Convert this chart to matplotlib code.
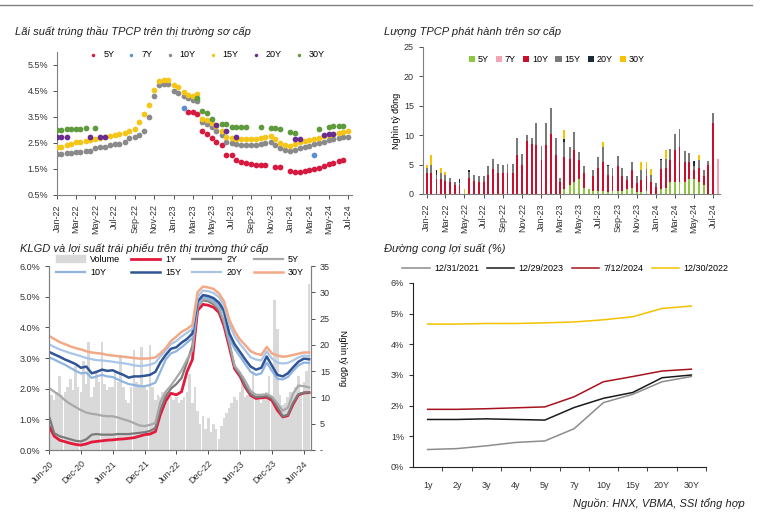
import matplotlib
matplotlib.use('Agg')
import matplotlib.pyplot as plt
import matplotlib.dates as mdates
import matplotlib.ticker as tic
import numpy as np
import pandas as pd
from matplotlib.lines import Line2D
from matplotlib.patches import Patch

plt.rcParams['font.family'] = ['Liberation Sans', 'DejaVu Sans']
plt.rcParams['font.size'] = 7
nan = np.nan

# ---- top left: auction yields, semi-monthly from Jan-2022 ----
tl_start = '2022-01-01'
tl_5y = [nan]*27 + [3.68, 3.68, 3.62, 2.95, 2.85, 2.70, 2.55, 2.42, 2.05, 2.02, 1.83,
                    1.78, 1.72, 1.68, 1.65, 1.64, 1.64, nan, 1.58, 1.58, nan, 1.42, 1.38,
                    1.38, 1.42, 1.45, 1.50, 1.55, 1.60, 1.68, 1.74, 1.80, 1.85, nan, nan]
tl_7y = [nan]*26 + [3.83] + [nan]*26 + [2.03] + [nan]*8
tl_10y = [2.08, 2.08, 2.10, 2.12, 2.14, 2.16, 2.18, 2.20, 2.30, 2.34,
          2.36, 2.42, 2.46, 2.48, 2.52, 2.68, 2.72, 2.80, 2.97, 3.50,
          4.30, 4.74, 4.78, 4.76, 4.50, 4.42, 4.30, 4.22, 4.17, 4.10,
          3.32, 3.25, 3.10, 2.98, 2.80, 2.55, 2.50, 2.45, 2.44, 2.43,
          2.43, 2.44, 2.45, 2.50, 2.53, 2.42, 2.30, 2.25, 2.20, 2.22,
          2.30, 2.36, 2.40, 2.45, 2.50, 2.55, 2.60, 2.66, 2.70, 2.72,
          2.74, nan]
tl_15y = [2.34, 2.36, 2.42, 2.48, 2.52, 2.54, 2.56, 2.60, 2.64, 2.70,
          2.72, 2.76, 2.82, 2.86, 2.90, 2.96, 3.05, 3.30, 3.60, 3.98,
          4.55, 4.90, 4.94, 4.93, 4.72, 4.66, 4.45, 4.36, 4.30, 4.38,
          3.42, 3.38, 3.28, 3.15, 2.95, 2.75, 2.70, 2.67, 2.66, 2.65,
          2.65, 2.66, 2.68, 2.72, 2.78, 2.65, 2.50, 2.42, 2.38, 2.45,
          2.52, 2.57, 2.62, 2.66, 2.70, 2.76, 2.82, 2.86, 2.90, 2.94,
          2.98, nan]
tl_20y = [2.74, 2.74, 2.74, nan, nan, nan, nan, 2.74, nan, 2.74,
          2.74, nan, nan, nan, nan, nan, nan, nan, nan, nan,
          nan, nan, nan, nan, nan, nan, nan, nan, nan, nan,
          nan, nan, nan, 3.20, nan, 2.98, nan, 2.74, nan, nan,
          nan, nan, nan, nan, nan, nan, nan, nan, nan, 2.66,
          2.66, nan, nan, nan, nan, 2.82, 2.85, 2.86, nan, nan,
          nan, nan]
tl_30y = [3.00, 3.00, 3.02, 3.04, 3.04, 3.04, 3.06, nan, 3.08, nan,
          nan, nan, nan, nan, nan, nan, nan, nan, nan, nan,
          nan, nan, nan, nan, nan, nan, nan, nan, nan, 4.24,
          3.72, 3.65, 3.42, nan, 3.25, 3.22, 3.12, 3.10, 3.10, 3.10,
          nan, nan, 3.10, nan, 3.08, 3.06, 3.04, nan, 2.92, 2.90,
          nan, nan, nan, nan, 3.04, nan, 3.12, 3.14, 3.14, 3.15,
          nan, nan]

# ---- top right: issuance volume (nghin ty dong), semi-monthly ----
iss_5y = [0]*29 + [0.8, 1.5, 2.0, 2.5, 1.0, 0.8, 0.5, 0.5, 0.5, 0.3, 0.5, 0.5, 0.5, 0.8,
                   1.0, 0.3, 0.3, 0.5, 0, 0, 0.8, 1.0, 2.0, 2.0, 2.0, 2.0, 2.5, 2.5, 2.0,
                   1.5, 0, 0, 0]
iss_7y = [0]*61 + [6.0]
iss_10y = [3.5, 3.5, 2.5, 2.5, 2.2, 2.0, 1.5, 1.5, 0, 2.7,
           2.2, 2.1, 2.0, 3.3, 4.2, 3.6, 3.5, 3.6, 3.6, 6.6,
           5.0, 9.0, 8.5, 8.4, 5.7, 8.4, 10.2, 6.7, 2.0, 5.5,
           4.5, 5.5, 3.2, 2.6, 0, 2.5, 4.0, 5.0, 3.0, 2.5,
           4.2, 2.5, 1.5, 3.0, 1.5, 2.0, 2.5, 2.0, 1.2, 3.5,
           3.5, 3.8, 5.5, 6.0, 3.5, 3.0, 1.5, 2.5, 1.5, 5.0,
           12.0, 0]
iss_15y = [1.0, 1.5, 0.8, 1.0, 1.0, 0.8, 0.5, 0.3, 0, 1.0,
           1.0, 1.0, 1.0, 1.4, 1.8, 1.5, 1.5, 1.5, 1.5, 2.9,
           1.8, 1.1, 1.0, 3.6, 2.5, 3.6, 4.5, 2.9, 0.8, 2.5,
           2.0, 3.0, 1.5, 1.2, 0, 1.0, 1.8, 2.5, 1.5, 1.5,
           1.8, 1.5, 0.7, 1.5, 1.2, 1.7, 1.3, 1.2, 0.6, 1.5,
           1.5, 1.9, 2.7, 3.0, 1.8, 1.5, 0.8, 1.2, 1.0, 0.6,
           1.7, 0]
iss_20y = [0, 0, 0.7, 0, 0, 0, 0, 0.7, 0, 0.3] + [0]*19 + [0.5] + [0]*8 + [0.2] + \
          [0]*10 + [0.2] + [0]*6 + [0.8] + [0]*5
iss_30y = [0.5, 1.7, 0, 1.0, 0.5, 0, 0, 0, 0.8] + [0]*20 + [1.5] + [0]*7 + [0.8] + \
          [0]*7 + [1.5, 1.2, 1.0, 0, 0, 1.5] + [0]*6 + [1.0] + [0]*4

# ---- bottom left: secondary yields (monthly) and volume (semi-monthly) ----
sec_start = '2020-06-01'
y1 = [0.78, 0.45, 0.32, 0.27, 0.22, 0.18, 0.16, 0.20, 0.26, 0.28, 0.30, 0.32, 0.33,
      0.35, 0.36, 0.38, 0.40, 0.45, 0.50, 0.52, 0.60, 1.15, 1.60, 1.85, 1.80, 1.90,
      2.55, 2.95, 4.55, 4.75, 4.72, 4.65, 4.48, 4.05, 3.35, 2.65, 2.40, 2.05, 1.78,
      1.68, 1.70, 1.72, 1.62, 1.30, 1.08, 1.12, 1.50, 1.80, 1.86, 1.87]
y2 = [1.10, 0.55, 0.45, 0.40, 0.35, 0.30, 0.28, 0.35, 0.50, 0.52, 0.50, 0.50, 0.50,
      0.52, 0.52, 0.52, 0.54, 0.56, 0.58, 0.62, 0.72, 1.30, 1.75, 2.00, 2.15, 2.35,
      2.85, 3.40, 4.70, 4.88, 4.85, 4.75, 4.55, 4.15, 3.45, 2.70, 2.45, 2.10, 1.82,
      1.72, 1.74, 1.76, 1.68, 1.40, 1.10, 1.15, 1.55, 1.82, 1.87, 1.88]
y5 = [2.02, 1.90, 1.78, 1.62, 1.50, 1.40, 1.30, 1.22, 1.18, 1.16, 1.12, 1.10, 1.10,
      1.06, 1.00, 0.95, 0.88, 0.80, 0.78, 0.82, 0.88, 1.55, 1.90, 2.10, 2.35, 2.60,
      2.95, 3.25, 4.70, 4.92, 4.90, 4.80, 4.62, 4.20, 3.50, 2.75, 2.52, 2.25, 1.92,
      1.80, 1.80, 1.82, 1.74, 1.52, 1.28, 1.38, 1.85, 2.10, 2.08, 2.04]
y10 = [3.02, 2.95, 2.86, 2.78, 2.68, 2.58, 2.50, 2.52, 2.35, 2.40, 2.45, 2.40, 2.38,
       2.30, 2.22, 2.15, 2.12, 2.08, 2.08, 2.12, 2.20, 2.55, 2.95, 3.15, 3.22, 3.35,
       3.50, 3.65, 4.75, 4.98, 4.95, 4.88, 4.72, 4.45, 3.65, 3.30, 3.05, 2.80, 2.55,
       2.45, 2.50, 2.85, 2.58, 2.32, 2.30, 2.38, 2.58, 2.76, 2.85, 2.84]
y15 = [3.20, 3.12, 3.04, 2.95, 2.88, 2.80, 2.68, 2.72, 2.50, 2.55, 2.62, 2.58, 2.60,
       2.52, 2.45, 2.36, 2.40, 2.40, 2.42, 2.45, 2.55, 2.85, 3.10, 3.30, 3.35, 3.50,
       3.62, 3.80, 4.85, 5.05, 5.02, 4.95, 4.80, 4.55, 3.80, 3.45, 3.20, 2.95, 2.72,
       2.62, 2.68, 3.05, 2.75, 2.45, 2.40, 2.50, 2.70, 2.88, 2.98, 2.96]
y20 = [3.45, 3.36, 3.28, 3.22, 3.16, 3.11, 3.06, 3.00, 2.96, 2.93, 2.92, 2.90, 2.88,
       2.85, 2.83, 2.80, 2.76, 2.74, 2.75, 2.78, 2.85, 3.05, 3.25, 3.45, 3.55, 3.70,
       3.82, 3.95, 5.00, 5.20, 5.18, 5.12, 4.98, 4.72, 4.10, 3.72, 3.45, 3.25, 3.02,
       2.95, 2.92, 3.22, 2.98, 2.85, 2.82, 2.84, 2.92, 3.02, 3.08, 3.06]
y30 = [3.72, 3.62, 3.52, 3.45, 3.38, 3.32, 3.28, 3.22, 3.18, 3.16, 3.14, 3.10, 3.08,
       3.06, 3.04, 3.02, 3.00, 2.98, 2.98, 2.99, 3.02, 3.15, 3.32, 3.55, 3.70, 3.85,
       3.95, 4.08, 5.15, 5.33, 5.30, 5.25, 5.10, 4.85, 4.25, 3.88, 3.60, 3.42, 3.22,
       3.14, 3.10, 3.36, 3.15, 3.08, 3.04, 3.06, 3.10, 3.14, 3.18, 3.18]
volume = [12.0, 10.5, 9.5, 11.0, 14.0, 10.5, 11.0, 12.0, 13.5, 11.5,
          16.0, 12.0, 11.0, 17.0, 12.5, 20.5, 10.0, 12.0, 15.0, 13.0,
          20.5, 12.5, 11.5, 12.0, 12.0, 15.0, 13.0, 18.0, 12.0, 9.5,
          9.0, 12.0, 19.0, 13.0, 12.5, 19.5, 12.0, 11.5, 20.0, 12.0,
          9.5, 10.5, 10.0, 11.0, 11.0, 10.5, 10.0, 9.5, 10.0, 9.0,
          9.5, 10.0, 11.0, 14.5, 9.0, 12.0, 7.5, 5.0, 6.5, 4.0,
          6.0, 3.5, 5.0, 4.0, 2.0, 4.5, 6.0, 7.0, 8.0, 9.0,
          10.0, 9.5, 11.0, 14.0, 10.0, 10.5, 11.5, 15.0, 10.0, 9.5,
          9.0, 10.0, 11.0, 14.0, 10.0, 28.5, 23.0, 10.5, 8.5, 9.0,
          10.0, 11.0, 10.5, 12.0, 14.0, 11.0, 13.0, 15.0, 31.5]

# ---- bottom right: yield curves ----
tenors = ['1y', '2y', '3y', '4y', '5y', '7y', '10y', '15y', '20Y', '30Y']
curve_2021 = [0.57, 0.60, 0.69, 0.80, 0.85, 1.25, 2.10, 2.37, 2.78, 2.95]
curve_2023 = [1.55, 1.55, 1.57, 1.55, 1.53, 1.94, 2.24, 2.43, 2.91, 3.00]
curve_2024 = [1.88, 1.88, 1.90, 1.93, 1.96, 2.29, 2.78, 2.95, 3.13, 3.19]
curve_2022 = [4.66, 4.66, 4.68, 4.68, 4.70, 4.73, 4.80, 4.90, 5.17, 5.25]

fig = plt.figure(figsize=(7.6, 5.26), dpi=100)
fig.add_artist(Line2D([0.0, 0.99], [0.99, 0.99], color='#808080', lw=1))

title_kw = dict(fontsize=8, style='italic', color='#222222', va='baseline')
fig.text(15/760, 1-35/526, 'Lãi suất trúng thầu TPCP trên thị trường sơ cấp', **title_kw)
fig.text(384/760, 1-35/526, 'Lượng TPCP phát hành trên sơ cấp', **title_kw)
fig.text(20/760, 1-252/526, 'KLGD và lợi suất trái phiếu trên thị trường thứ cấp', **title_kw)
fig.text(384/760, 1-252/526, 'Đường cong lợi suất (%)', **title_kw)
fig.text(745/760, 1-507/526, 'Nguồn: HNX, VBMA, SSI tổng hợp', ha='right', va='baseline',
         fontsize=8, style='italic', color='#222222')

spine_c = '#808080'

def clean(ax, right=False):
    ax.spines['top'].set_visible(False)
    if not right:
        ax.spines['right'].set_visible(False)
    for s in ax.spines.values():
        s.set_color(spine_c)
    ax.tick_params(colors='#333333', labelsize=6.5, length=3, width=0.6)

# ---- top left ----
ax1 = fig.add_axes([57/760, 1-195/526, 295/760, 143/526])
d1 = pd.date_range(tl_start, periods=len(tl_10y), freq='SMS')
series1 = [('5Y', tl_5y, '#d7193f'), ('7Y', tl_7y, '#5b8fd0'), ('10Y', tl_10y, '#8a8a8a'),
           ('15Y', tl_15y, '#f5c518'), ('20Y', tl_20y, '#6a2c91'), ('30Y', tl_30y, '#5e9b3c')]
for name, vals, c in series1:
    ax1.scatter(d1, vals, s=17, color=c, label=name, zorder=3, linewidths=0)
ax1.set_ylim(0.5, 6.0)
ax1.set_yticks(np.arange(0.5, 5.6, 1.0))
ax1.yaxis.set_major_formatter(tic.FuncFormatter(lambda v, p: '{:.1f}%'.format(v)))
ax1.set_xlim(pd.Timestamp('2022-01-01'), pd.Timestamp('2024-07-12'))
ax1.xaxis.set_major_locator(mdates.MonthLocator(bymonth=(1, 3, 5, 7, 9, 11)))
ax1.xaxis.set_major_formatter(mdates.DateFormatter('%b-%y'))
plt.setp(ax1.get_xticklabels(), rotation=90)
clean(ax1)
ax1.legend(loc='upper center', bbox_to_anchor=(0.5, 1.07), ncol=6, frameon=False,
           fontsize=6.5, handletextpad=0.1, columnspacing=0.9, markerscale=0.6)

# ---- top right ----
ax2 = fig.add_axes([423/760, 1-194/526, 297/760, 147/526])
d2 = pd.date_range(tl_start, periods=len(iss_10y), freq='SMS')
bottom = np.zeros(len(iss_10y))
series2 = [('5Y', iss_5y, '#8dc63f'), ('7Y', iss_7y, '#f4a3b4'), ('10Y', iss_10y, '#c8102e'),
           ('15Y', iss_15y, '#7a7a7a'), ('20Y', iss_20y, '#1c2b3a'), ('30Y', iss_30y, '#f5c400')]
for name, vals, c in series2:
    v = np.array(vals, dtype=float)
    ax2.bar(d2, v, width=6, bottom=bottom, color=c, label=name, linewidth=0)
    bottom = bottom + v
ax2.set_ylim(0, 25)
ax2.set_yticks(range(0, 26, 5))
ax2.set_xlim(pd.Timestamp('2021-12-20'), pd.Timestamp('2024-07-22'))
ax2.xaxis.set_major_locator(mdates.MonthLocator(bymonth=(1, 3, 5, 7, 9, 11)))
ax2.xaxis.set_major_formatter(mdates.DateFormatter('%b-%y'))
plt.setp(ax2.get_xticklabels(), rotation=90)
ax2.set_ylabel('Nghìn tỷ đồng', fontsize=6.5, labelpad=2)
clean(ax2)
ax2.legend(loc='upper center', bbox_to_anchor=(0.45, 1.0), ncol=6, frameon=False,
           fontsize=6.5, handlelength=0.7, handleheight=0.7, handletextpad=0.3,
           columnspacing=0.8)

# ---- bottom left ----
ax3 = fig.add_axes([49/760, 1-450/526, 262/760, 184/526])
ax3b = ax3.twinx()
ax3b.set_zorder(ax3.get_zorder() - 1)
ax3.patch.set_visible(False)
dv = pd.date_range(sec_start, periods=len(volume), freq='SMS')
ax3b.bar(dv, volume, width=15, color='#d9d9d9', linewidth=0)
ax3b.set_ylim(0, 35)
ax3b.set_yticks(range(0, 36, 5))
ax3b.yaxis.set_major_formatter(tic.FuncFormatter(lambda v, p: '-' if v == 0 else '{:.0f}'.format(v)))
ax3b.set_ylabel('Nghìn tỷ đồng', rotation=270, labelpad=12, fontsize=6.5)
dl = pd.date_range(sec_start, periods=len(y1), freq='MS')
lines3 = [('1Y', y1, '#e31a3c', 2.0), ('2Y', y2, '#7a7a7a', 1.6), ('5Y', y5, '#a8a8a8', 1.6),
          ('10Y', y10, '#8fb4e0', 1.6), ('15Y', y15, '#2f5597', 1.8), ('20Y', y20, '#a9c6e8', 1.6),
          ('30Y', y30, '#f2a987', 1.8)]
h3 = {}
for name, vals, c, lw in lines3:
    h3[name], = ax3.plot(dl, vals, color=c, lw=lw, label=name)
ax3.set_ylim(0, 6)
ax3.set_yticks(np.arange(0, 6.1, 1.0))
ax3.yaxis.set_major_formatter(tic.FuncFormatter(lambda v, p: '{:.1f}%'.format(v)))
ax3.set_xlim(pd.Timestamp('2020-06-01'), pd.Timestamp('2024-07-12'))
ax3.xaxis.set_major_locator(mdates.MonthLocator(bymonth=(6, 12)))
ax3.xaxis.set_major_formatter(mdates.DateFormatter('%b-%y'))
plt.setp(ax3.get_xticklabels(), rotation=45, ha='right', rotation_mode='anchor')
clean(ax3, right=True)
ax3b.spines['top'].set_visible(False)
for s in ax3b.spines.values():
    s.set_color(spine_c)
ax3b.tick_params(colors='#333333', labelsize=6.5, length=3, width=0.6)
vol_patch = Patch(color='#d9d9d9', label='Volume')
order = [vol_patch, h3['10Y'], h3['1Y'], h3['15Y'], h3['2Y'], h3['20Y'], h3['5Y'], h3['30Y']]
ax3.legend(handles=order, loc='center', bbox_to_anchor=(0.5, 1.0), ncol=4, frameon=False,
           fontsize=6.5, handlelength=3.2, handletextpad=0.6, columnspacing=1.2,
           labelspacing=0.5)

# ---- bottom right ----
ax4 = fig.add_axes([413/760, 1-467/526, 293/760, 184/526])
x4 = np.arange(len(tenors))
curves = [('12/31/2021', curve_2021, '#8c8c8c'), ('12/29/2023', curve_2023, '#1a1a1a'),
          ('7/12/2024', curve_2024, '#a8121e'), ('12/30/2022', curve_2022, '#f2c200')]
for name, vals, c in curves:
    ax4.plot(x4, vals, color=c, lw=1.1, label=name)
ax4.set_xlim(-0.5, 9.5)
ax4.set_ylim(0, 6)
ax4.set_yticks(range(0, 7))
ax4.yaxis.set_major_formatter(tic.FuncFormatter(lambda v, p: '{:.0f}%'.format(v)))
ax4.set_xticks(x4)
ax4.set_xticklabels(tenors)
ax4.set_xticks(np.arange(0.5, 9.6, 1.0), minor=True)
ax4.tick_params(axis='x', which='major', length=0, pad=10)
ax4.tick_params(axis='x', which='minor', length=3, color='#222222')
ax4.spines['top'].set_visible(False)
ax4.spines['right'].set_visible(False)
for s in ('left', 'bottom'):
    ax4.spines[s].set_color('#222222')
ax4.tick_params(axis='y', colors='#333333', labelsize=6.5, length=3)
ax4.tick_params(axis='x', labelsize=6.5, colors='#333333')
ax4.legend(loc='center', bbox_to_anchor=(0.52, 1.08), ncol=4, frameon=False, fontsize=6.5,
           handlelength=3.0, handletextpad=0.5, columnspacing=0.9)

fig.savefig('out.png', dpi=100)
